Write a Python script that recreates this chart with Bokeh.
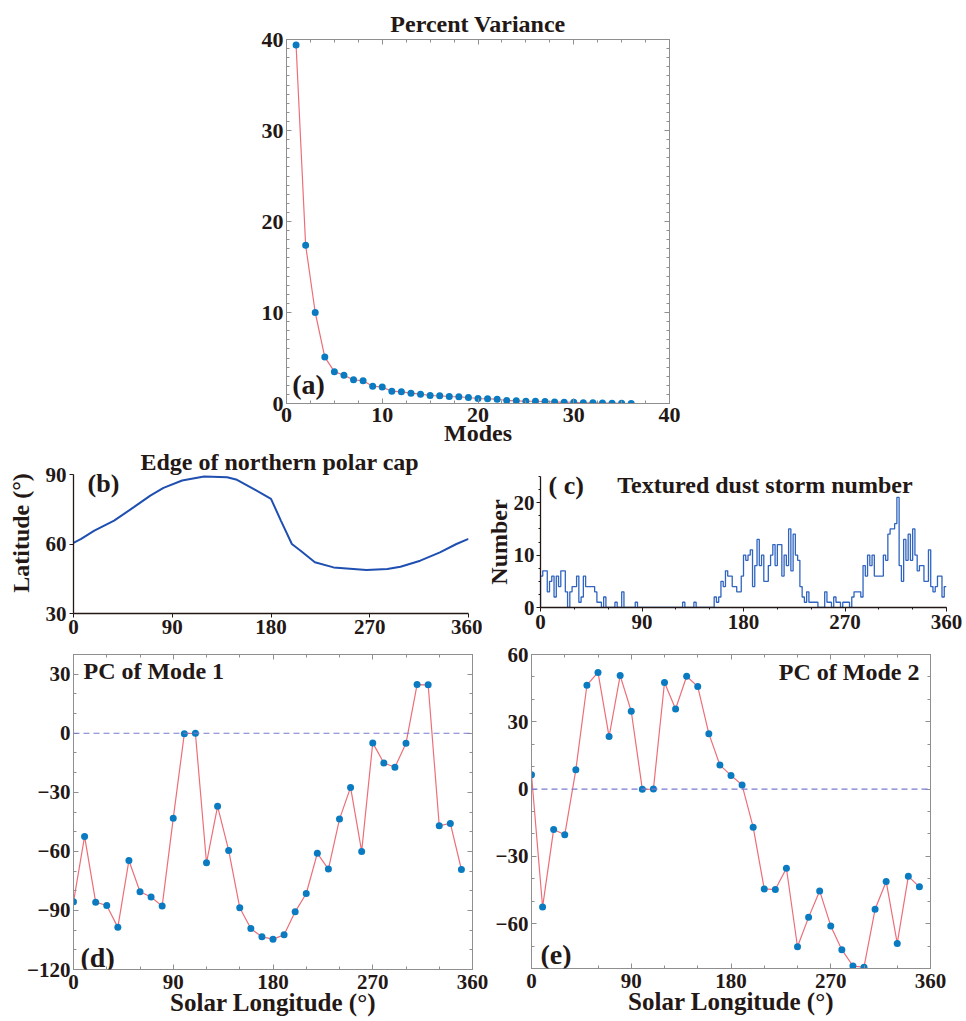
import numpy as np
from bokeh.plotting import figure
from bokeh.layouts import column, row
from bokeh.models import Range1d, FixedTicker, LinearAxis, Label, Span
from bokeh.embed import file_html
from bokeh.resources import INLINE

# ---------------- data ----------------
modes = list(range(1, 37))
pct_var = [39.4, 17.4, 10.0, 5.1, 3.5, 3.1, 2.6, 2.5, 1.9, 1.8, 1.35, 1.28,
           1.13, 1.02, 0.88, 0.84, 0.77, 0.73, 0.66, 0.55, 0.51, 0.47, 0.33, 0.29,
           0.26, 0.25, 0.22, 0.16, 0.15, 0.14, 0.08, 0.07, 0.05, 0.04, 0.02, 0.0]

cap_ls = [0, 7, 19, 37, 55, 70, 82, 99, 119, 140, 149, 164, 180, 189, 199, 207,
          220, 237, 267, 286, 298, 316, 334, 349, 360]
cap_lat = [60.5, 62.2, 65.8, 70.1, 75.9, 80.9, 84.2, 87.4, 89.1, 88.8, 87.7, 83.8,
           79.5, 70.1, 60.0, 57.1, 52.1, 49.9, 48.8, 49.2, 50.2, 52.8, 56.4, 60.0, 62.2]

storm_bin_width = 2
storm_counts = [
    6, 7, 7, 3, 5, 6, 2, 6, 4, 7, 7, 3, 0, 3, 4, 4, 6, 1, 2, 6,
    4, 4, 4, 4, 3, 1, 1, 0, 2, 0, 0, 0, 0, 1, 0, 0, 3, 0, 0, 0,
    0, 0, 1, 0, 0, 0, 0, 0, 0, 0, 0, 0, 0, 0, 0, 0, 0, 0, 0, 0,
    0, 0, 0, 1, 0, 0, 0, 0, 1, 0, 0, 0, 0, 0, 0, 0, 0, 2, 1, 2,
    5, 4, 7, 6, 6, 4, 4, 3, 3, 6, 10, 9, 10, 11, 4, 8, 13, 8, 10, 5,
    5, 8, 10, 12, 8, 12, 12, 6, 10, 8, 15, 7, 14, 10, 9, 4, 2, 1, 3, 1,
    1, 1, 1, 0, 0, 0, 3, 1, 1, 0, 2, 1, 1, 0, 1, 1, 1, 0, 2, 3,
    3, 3, 2, 8, 6, 10, 8, 10, 6, 6, 6, 6, 10, 9, 14, 15, 15, 16, 21, 8,
    5, 13, 9, 14, 9, 15, 10, 7, 8, 8, 5, 5, 11, 4, 3, 4, 6, 6, 2, 4]

pc_ls = list(range(0, 360, 10))
pc1 = [-85.6, -52.4, -85.8, -87.5, -98.6, -64.6, -80.5, -83.2, -87.8, -43.2,
       -0.2, 0.0, -65.8, -37.1, -59.5, -88.6, -99.2, -103.4, -104.6, -102.4,
       -90.7, -81.4, -61.0, -69.0, -43.6, -27.5, -60.0, -4.9, -15.1, -17.3,
       -5.1, 24.7, 24.6, -47.0, -45.8, -69.2]
pc2 = [6.4, -52.6, -18.0, -20.4, 8.6, 46.3, 52.0, 23.4, 50.6, 34.7,
       -0.1, 0.0, 47.5, 35.7, 50.3, 45.7, 24.7, 10.7, 6.1, 1.8,
       -17.0, -44.5, -44.8, -35.3, -70.3, -57.2, -45.4, -61.0, -71.6, -78.9,
       -79.4, -53.6, -41.2, -68.8, -38.9, -43.6]

ls_ticks = [0, 90, 180, 270, 360]

# ---------------- style ----------------
FONT = "Liberation Serif"
TXT = "#231815"
GRAY = "#8f8f8f"
RED = "#ec6f78"
BLUE = "#0b7bc1"
TICK_SIZE = "21px"


def style_axis(ax, labels=True, color=GRAY, tick_in=True, size=TICK_SIZE, width=1):
    ax.axis_line_color = color
    ax.axis_line_width = width
    ax.major_tick_line_color = color
    ax.minor_tick_line_color = color
    if tick_in:
        ax.major_tick_in = 5
        ax.major_tick_out = 0
        ax.minor_tick_in = 3
        ax.minor_tick_out = 0
    else:
        ax.major_tick_in = 0
        ax.major_tick_out = 4
        ax.minor_tick_in = 0
        ax.minor_tick_out = 2
    ax.major_label_text_font = FONT
    ax.major_label_text_font_style = "bold"
    if labels:
        ax.major_label_standoff = 4
        ax.major_label_text_color = TXT
        ax.major_label_text_font_size = size
    else:
        ax.major_label_standoff = 0
        ax.major_label_text_color = None
        ax.major_label_text_font_size = "0px"


def axis_title(ax, text, standoff, size="24px"):
    ax.axis_label = text
    ax.axis_label_text_font = FONT
    ax.axis_label_text_font_style = "bold"
    ax.axis_label_text_font_size = size
    ax.axis_label_text_color = TXT
    ax.axis_label_standoff = standoff


def set_title(p, text, offset, standoff, size="24px"):
    p.title.text = text
    p.title.text_font = FONT
    p.title.text_font_style = "bold"
    p.title.text_font_size = size
    p.title.text_color = TXT
    p.title.align = "center"
    p.title.offset = offset
    p.title.standoff = standoff


def lab(p, x, y, text, size="24px", align="left"):
    p.add_layout(Label(x=x, y=y, text=text, text_font=FONT, text_font_style="bold",
                       text_font_size=size, text_color=TXT, text_align=align,
                       text_baseline="middle"))


def base_fig(xr, yr, fw, fh, bl, br, bt, bb, outline=True, title=None):
    p = figure(x_range=Range1d(*xr), y_range=Range1d(*yr), frame_width=fw, frame_height=fh,
               min_border_left=bl, min_border_right=br, min_border_top=bt, min_border_bottom=bb,
               output_backend="svg", toolbar_location=None, title=title)
    p.grid.visible = False
    p.outline_line_color = GRAY if outline else None
    p.background_fill_color = "white"
    p.border_fill_color = "white"
    return p


# ---------------- (a) percent variance ----------------
pa = base_fig((0, 40), (0, 40), 383, 364, 286, 297, 39, 47, title="Percent Variance")
pa.xaxis.ticker = FixedTicker(ticks=[0, 10, 20, 30, 40], minor_ticks=list(np.arange(0, 40.1, 2.5)))
pa.yaxis.ticker = FixedTicker(ticks=[0, 10, 20, 30, 40], minor_ticks=list(range(0, 41)))
style_axis(pa.xaxis[0], size="22px")
style_axis(pa.yaxis[0], size="22px")
pa.xaxis[0].major_label_standoff = 4
pa.yaxis[0].major_label_standoff = 3
axis_title(pa.xaxis[0], "Modes", -5)
for side in ("above", "right"):
    ax = LinearAxis(ticker=FixedTicker(ticks=[0, 10, 20, 30, 40],
                                       minor_ticks=list(np.arange(0, 40.1, 2.5)) if side == "above" else list(range(0, 41))))
    style_axis(ax, labels=False)
    pa.add_layout(ax, side)
pa.line(modes, pct_var, line_color=RED, line_width=1.2)
pa.scatter(modes, pct_var, size=7, fill_color=BLUE, line_color=None)
set_title(pa, "Percent Variance", 12, 5)
lab(pa, 0.6, 2.1, "(a)", size="28px")

# ---------------- (b) polar cap edge ----------------
# frame extends above the 90 deg axis end so the panel title sits inside it
pb = base_fig((0, 360), (30, 99.5), 395, 161, 73, 14, 2, 30, outline=False)
pb.xaxis.ticker = FixedTicker(ticks=ls_ticks)
pb.yaxis.ticker = FixedTicker(ticks=[30, 60, 90])
pb.yaxis.bounds = (30, 90)
style_axis(pb.xaxis[0], color=TXT, tick_in=False, width=1.3)
style_axis(pb.yaxis[0], color=TXT, tick_in=False, width=1.3)
pb.xaxis[0].major_label_standoff = 2
pb.yaxis[0].major_label_standoff = 3
axis_title(pb.yaxis[0], "Latitude (°)", 9)
pb.line(cap_ls, cap_lat, line_color="#1f4fb0", line_width=2)
lab(pb, 188.0, 95.6, "Edge of northern polar cap", align="center")
lab(pb, 12.8, 86.1, "(b)", size="26px")

# ---------------- (c) dust storms ----------------
pc = base_fig((0, 360), (0, 25), 406, 131, 53, 25, 26, 36, outline=False)
pc.xaxis.ticker = FixedTicker(ticks=ls_ticks, minor_ticks=list(range(0, 361, 30)))
pc.yaxis.ticker = FixedTicker(ticks=[0, 10, 20], minor_ticks=list(np.arange(0, 25.1, 2.5)))
style_axis(pc.xaxis[0], color=TXT, tick_in=False, width=1.3)
style_axis(pc.yaxis[0], color=TXT, tick_in=False, width=1.3)
pc.xaxis[0].major_label_standoff = 3
pc.yaxis[0].major_label_standoff = 2
axis_title(pc.yaxis[0], "Number", -1)
edges = [i * storm_bin_width for i in range(len(storm_counts) + 1)]
xs = [0] + edges
ys = [0] + storm_counts + [storm_counts[-1]]
pc.step(xs, ys, mode="after", line_color="#2f64c0", line_width=1.3)
lab(pc, 7.1, 23.3, "( c)", size="26px")
lab(pc, 199.0, 23.3, "Textured dust storm number", align="center")


# ---------------- (d),(e) principal components ----------------
def pc_fig(vals, yr, yticks, bl, br, fh, bb):
    p = base_fig((0, 360), yr, 399, fh, bl, br, 11, bb)
    minor_y = list(range(yr[0], yr[1] + 1, 10))
    p.xaxis.ticker = FixedTicker(ticks=ls_ticks, minor_ticks=list(range(0, 361, 30)))
    p.yaxis.ticker = FixedTicker(ticks=yticks, minor_ticks=minor_y)
    style_axis(p.xaxis[0])
    style_axis(p.yaxis[0])
    p.xaxis[0].major_label_standoff = 5
    p.yaxis[0].major_label_standoff = 3
    axis_title(p.xaxis[0], "Solar Longitude (°)", -3, size="25px")
    for side, tk in (("above", FixedTicker(ticks=ls_ticks, minor_ticks=list(range(0, 361, 30)))),
                     ("right", FixedTicker(ticks=yticks, minor_ticks=minor_y))):
        ax = LinearAxis(ticker=tk)
        style_axis(ax, labels=False)
        p.add_layout(ax, side)
    p.add_layout(Span(location=0, dimension="width", line_color="#7b7bd0",
                      line_dash="6 4", line_width=1.2))
    p.line(pc_ls, vals, line_color=RED, line_width=1.2)
    p.scatter(pc_ls, vals, size=7, fill_color=BLUE, line_color=None)
    return p


pd_ = pc_fig(pc1, (-120, 40), [-120, -90, -60, -30, 0, 30], 73, 18, 315, 52)
lab(pd_, 9.0, 31.6, "PC of Mode 1")
lab(pd_, 6.3, -113.9, "(d)", size="28px")

pe = pc_fig(pc2, (-80, 60), [-60, -30, 0, 30, 60], 41, 36, 314, 53)
lab(pe, 350.0, 52.4, "PC of Mode 2", align="right")
lab(pe, 8.1, -73.7, "(e)", size="28px")

# each plot wrapped on its own so frames are not forced to share borders
layout = column(row(pa), row(column(pb), column(pc)), row(column(pd_), column(pe)))
open("out.html", "w").write(file_html(layout, INLINE))
